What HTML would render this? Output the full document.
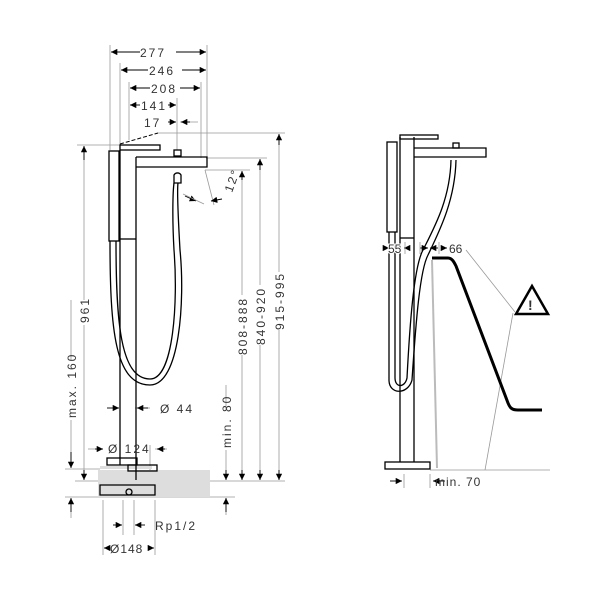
<!DOCTYPE html>
<html><head><style>
html,body{margin:0;padding:0;background:#fff}
svg{display:block}
text{font-family:"Liberation Sans",sans-serif;font-size:12px;fill:#333;letter-spacing:2px}
</style></head><body>
<svg width="600" height="600" viewBox="0 0 600 600" xmlns="http://www.w3.org/2000/svg">
<defs>
<marker id="a" viewBox="0 0 10 10" refX="10" refY="5" markerWidth="7" markerHeight="7" orient="auto-start-reverse"><path d="M0,0L10,5L0,10z" fill="#000"/></marker>
</defs>
<g stroke="#999" stroke-width="0.8" fill="none">
<line x1="110" y1="45" x2="110" y2="150"/>
<line x1="120" y1="63" x2="120" y2="145"/>
<line x1="207" y1="45" x2="207" y2="158"/>
<line x1="129" y1="82" x2="129" y2="140"/>
<line x1="201" y1="82" x2="201" y2="158"/>
<line x1="177" y1="98" x2="177" y2="150"/>
<line x1="158" y1="133" x2="285" y2="133"/>
<line x1="206" y1="158" x2="267" y2="158"/>
<line x1="205" y1="170" x2="250" y2="170"/>
<line x1="77" y1="145" x2="120" y2="145"/>
<line x1="65" y1="469" x2="100" y2="469"/>
<line x1="75" y1="481" x2="100" y2="481"/>
<line x1="210" y1="481" x2="285" y2="481"/>
<line x1="65" y1="497" x2="235" y2="497"/>
<line x1="103" y1="500" x2="103" y2="555"/>
<line x1="155" y1="500" x2="155" y2="555"/>
<line x1="123" y1="500" x2="123" y2="535"/>
<line x1="134" y1="500" x2="134" y2="535"/>
<line x1="150" y1="445" x2="150" y2="478"/>
<line x1="84" y1="150" x2="84" y2="300"/><line x1="84" y1="325" x2="84" y2="478"/>
<line x1="71" y1="300" x2="71" y2="360"/><line x1="71" y1="420" x2="71" y2="462"/>
<line x1="226" y1="385" x2="226" y2="410"/><line x1="226" y1="450" x2="226" y2="478"/>
<line x1="242" y1="175" x2="242" y2="295"/><line x1="242" y1="355" x2="242" y2="478"/>
<line x1="260" y1="165" x2="260" y2="285"/><line x1="260" y1="345" x2="260" y2="478"/>
<line x1="279" y1="140" x2="279" y2="272"/><line x1="279" y1="330" x2="279" y2="478"/>
<line x1="71" y1="503" x2="71" y2="518"/><line x1="226" y1="503" x2="226" y2="515"/>
<line x1="112" y1="52" x2="140" y2="52"/><line x1="176" y1="52" x2="205" y2="52"/>
<line x1="122" y1="70" x2="148" y2="70"/><line x1="182" y1="70" x2="205" y2="70"/>
<line x1="131" y1="88" x2="150" y2="88"/><line x1="180" y1="88" x2="199" y2="88"/>
<line x1="180" y1="122" x2="198" y2="122"/>
<line x1="135" y1="408" x2="150" y2="408"/>
<line x1="88" y1="449" x2="100" y2="449"/><line x1="155" y1="449" x2="167" y2="449"/>
<line x1="205" y1="170" x2="214" y2="205"/>
</g>
<g fill="none" stroke="#000" stroke-width="0.9" marker-end="url(#a)">
<line x1="140" y1="52" x2="111" y2="52"/><line x1="176" y1="52" x2="206" y2="52"/>
<line x1="148" y1="70" x2="121" y2="70"/><line x1="182" y1="70" x2="206" y2="70"/>
<line x1="150" y1="88" x2="130" y2="88"/><line x1="180" y1="88" x2="200" y2="88"/>
<line x1="140" y1="105" x2="130" y2="105"/><line x1="168" y1="105" x2="176" y2="105"/>
<line x1="168" y1="122" x2="176" y2="122"/><line x1="190" y1="122" x2="181" y2="122"/>
<line x1="84" y1="160" x2="84" y2="146"/>
<line x1="242" y1="180" x2="242" y2="171"/>
<line x1="260" y1="170" x2="260" y2="159"/>
<line x1="279" y1="145" x2="279" y2="134"/>
<line x1="84" y1="470" x2="84" y2="480"/>
<line x1="71" y1="452" x2="71" y2="468"/>
<line x1="226" y1="470" x2="226" y2="480"/><line x1="242" y1="470" x2="242" y2="480"/>
<line x1="260" y1="470" x2="260" y2="480"/><line x1="279" y1="470" x2="279" y2="480"/>
<line x1="71" y1="512" x2="71" y2="498"/><line x1="226" y1="512" x2="226" y2="498"/>
<line x1="107" y1="408" x2="119" y2="408"/><line x1="148" y1="408" x2="137" y2="408"/>
<line x1="95" y1="449" x2="103" y2="449"/><line x1="165" y1="449" x2="157" y2="449"/>
<line x1="113" y1="525" x2="122" y2="525"/><line x1="145" y1="525" x2="135" y2="525"/>
<line x1="110" y1="548" x2="104" y2="548"/><line x1="148" y1="548" x2="154" y2="548"/>
<line x1="185" y1="196" x2="196" y2="201"/><line x1="222" y1="199" x2="211" y2="201"/>
<line x1="420" y1="248" x2="428" y2="248"/><line x1="438" y1="248" x2="430" y2="248"/>
<line x1="383" y1="248" x2="389" y2="248"/><line x1="410" y1="248" x2="404" y2="248"/>
<line x1="442" y1="248" x2="447" y2="248"/>
<line x1="390" y1="481" x2="402" y2="481"/><line x1="445" y1="481" x2="433" y2="481"/>
</g>
<rect x="98" y="470" width="112" height="27" fill="#ddd"/>
<rect x="100" y="466" width="52" height="3" fill="#ddd"/>
<g fill="none" stroke="#000" stroke-width="1.3">
<line x1="120" y1="150" x2="120" y2="465"/>
<line x1="136" y1="157" x2="136" y2="480"/>
<rect x="120" y="145" width="40" height="5"/>
<path d="M136,157H207V167H136"/>
<rect x="174" y="150" width="7" height="6"/>
<path d="M174,175a4,4 0 0 1 7,0v8h-7z"/>
<rect x="109" y="151" width="10" height="90"/>
<line x1="120" y1="239" x2="136" y2="239"/>
<path d="M110,241C110,330 115,385 150,385C180,385 185,300 180,250C178,215 177,190 178,183"/>
<path d="M116,241C116,320 120,379 150,379C174,379 178,300 174,250C172,215 173,190 174,183"/>
<rect x="107" y="458" width="30" height="7"/>
<rect x="128" y="465" width="29" height="6"/>
<path d="M100,485h55v10h-55z"/>
<circle cx="129" cy="492" r="3"/>
</g>
<path d="M120,144L158,133" stroke="#000" stroke-width="1" stroke-dasharray="4,2" fill="none"/>
<line x1="183" y1="194" x2="204" y2="204" stroke="#999" stroke-width="0.8"/>
<text x="140" y="57">277</text>
<text x="149" y="75">246</text>
<text x="151" y="93">208</text>
<text x="141" y="110">141</text>
<text x="144" y="127">17</text>
<text transform="translate(232,193) rotate(-70)">12°</text>
<text transform="translate(89,323) rotate(-90)">961</text>
<text transform="translate(76,418) rotate(-90)">max. 160</text>
<text transform="translate(231,448) rotate(-90)">min. 80</text>
<text transform="translate(247,355) rotate(-90)">808-888</text>
<text transform="translate(265,345) rotate(-90)">840-920</text>
<text transform="translate(284,330) rotate(-90)">915-995</text>
<text x="160" y="413">Ø 44</text>
<text x="108" y="453">Ø 124</text>
<text x="155" y="530">Rp1/2</text>
<text x="110" y="553" style="letter-spacing:1px">Ø148</text>
<line x1="432" y1="260" x2="437" y2="468" stroke="#bbb" stroke-width="2"/>
<g fill="none" stroke="#999" stroke-width="0.8">
<line x1="430" y1="470" x2="550" y2="470"/>
<line x1="466" y1="250" x2="515" y2="312"/>
<line x1="513" y1="313" x2="485" y2="470"/>
<line x1="430" y1="474" x2="430" y2="488"/>
<line x1="404" y1="474" x2="404" y2="488"/>
<line x1="405" y1="242" x2="405" y2="254"/>
<line x1="420" y1="242" x2="420" y2="254"/>
<line x1="439" y1="242" x2="439" y2="254"/>
</g>
<g fill="none" stroke="#000" stroke-width="1.3">
<line x1="400" y1="137" x2="400" y2="462"/>
<line x1="414" y1="137" x2="414" y2="462"/>
<rect x="400" y="135" width="38" height="4"/>
<path d="M414,148H486V157H414"/>
<rect x="453" y="143" width="6" height="5"/>
<rect x="387" y="142" width="10" height="90"/>
<line x1="400" y1="238" x2="414" y2="238"/>
<rect x="385" y="462" width="45" height="7"/>
<path d="M389,232V380C389,395 408,395 412,380C416,320 420,270 428,255C440,230 455,200 456,160"/>
<path d="M395,232V378C395,388 405,388 407,378C410,320 414,270 422,252C434,228 450,200 451,160"/>
</g>
<path d="M432,258H448C452,258 454,262 456,266L508,403C510,408 512,410 518,410H542" fill="none" stroke="#000" stroke-width="3"/>
<path d="M532,286L548,314H516Z" fill="#fff" stroke="#000" stroke-width="2.5"/>
<text x="528" y="310" style="font-size:14px;font-weight:bold;letter-spacing:0">!</text>
<text x="388" y="253" style="letter-spacing:0;fill:#333;paint-order:stroke;stroke:#fff;stroke-width:2px">55</text>
<text x="449" y="253" style="letter-spacing:0">66</text>
<text x="435" y="486" style="letter-spacing:1px">min. 70</text>
</svg>
</body></html>
